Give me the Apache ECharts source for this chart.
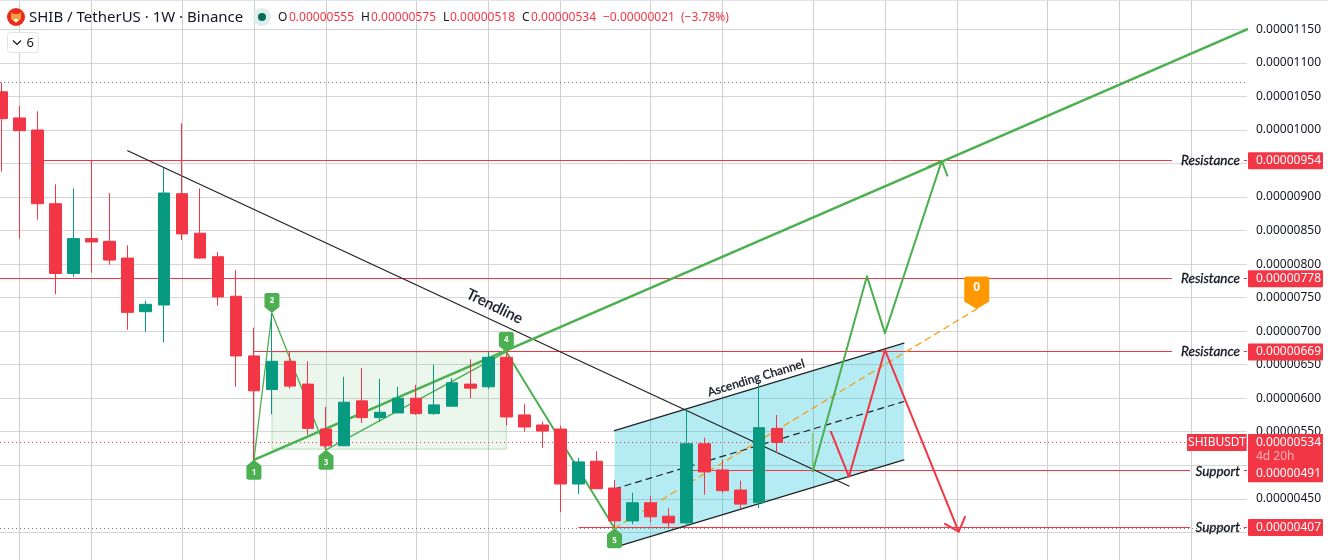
<!DOCTYPE html>
<html><head><meta charset="utf-8">
<style>html,body{margin:0;padding:0;background:#fff}#c{width:1328px;height:560px}</style>
<script src="https://cdn.jsdelivr.net/npm/echarts@6/dist/echarts.min.js"></script>
</head><body><div id="c"></div>
<script>
// Prices are in units of 0.00000001 USDT; x is the weekly bar index.
const opens =[1057,1018,1000,890,786,838,834,809,729,739,905,846,811,752,663,613,655,621,554,529,596,571,578,600,577,588,621,617,661,575,560,554,472,506,466,417,444,424,414,532,493,463,444,555];
const closes=[1017,999,890,786,838,833,806,728,740,906,845,809,751,663,611,655,618,555,529,594,571,579,600,577,590,623,615,661,572,557,551,472,505,465,417,444,423,414,532,490,462,442,556,534];
const lows  =[938,838,866,755,781,787,799,702,699,683,836,808,738,617,508,576,614,545,523,529,563,565,578,575,575,588,600,614,559,550,526,430,457,465,406,412,415,408,409,456,459,435,436,518];
const highs =[1071,1036,1028,919,913,954,906,828,745,943,1010,913,818,791,705,727,670,655,587,632,645,629,617,620,650,630,658,669,669,591,565,559,511,521,478,459,454,436,583,541,508,477,624,575];
const monthBars=[1,5,10,14,18,23,27,31,36,40,45,49,53,58,62,66];
const xMin=-0.083, xMax=69.08;
const priceLabelEnd=64.92, supportLabelEnd=65.92, stubStart=68.9;

const trendline=[[7,969],[47,469]];
const greenTrend=[[14,508],[69.08,1150]];
const waveThin=[[14,508],[15,727],[18,523],[28,669]];
const waveLast=[[28,669],[34,406]];
const orangeFib=[[34,406],[54.09,733]];
const channelTop=[[34,551.5],[50.05,682]];
const channelMid=[[34,464.6],[50.05,595]];
const channelBottom=[[34,377.5],[50.05,508]];
const greenPathStart=[[45,547],[45,491]];
const greenPath=[[45,491],[48,782],[49,697],[52.15,954]];
const greenHead=[[51.39,945],[52.15,954],[52.46,932]];
const redPath=[[46,550],[47,483],[49,672],[53.09,401]];
const redHead=[[52.33,412.6],[53.09,401],[53.44,423]];
const prevHigh=1071, prevLow=406, lastPrice=534;
const levelStarts=[2,xMin,14,38,32];
const levelPrices=[954,778,669,492,407];
const levelEnds=[priceLabelEnd,priceLabelEnd,priceLabelEnd,supportLabelEnd,supportLabelEnd];
const greenBox=[15,28,669,524];
const channelPoly=[[34,551.5],[50.05,682],[50.05,508],[34,377.5]];

const markerLabels=['1','2','3','4','5','0'];
const markerPoints=[[14,508],[15,727],[18,523],[28,669],[34,406],[54.09,733]];
const markerUp=[true,false,true,false,true,false];

const annotTexts=['Trendline','Ascending Channel','Resistance','Resistance','Resistance','Support','Support'];
const annotPoints=[[27.35,737],[41.85,630],[68.69,954],[68.69,778],[68.69,669],[68.69,491],[68.69,407]];
const annotRotation=[-26,17,0,0,0,0,0];

const tagPrices=[954,778,669,534,491,407];
const tagTexts=['0.00000954','0.00000778','0.00000669','0.00000534','0.00000491','0.00000407'];

const RED='#F23645',GRN='#089981',LINE='#4CAF50';
const FONT='"Noto Sans"';
const candleData=opens.map((o,i)=>[i,o,closes[i],lows[i],highs[i]]);

function line(name,pts,color,width,type,z){
  return {name,type:'line',data:pts,showSymbol:false,symbol:'none',silent:true,z:z||2,animation:false,
    lineStyle:{color,width,type:type||'solid',cap:'round',join:'round'}};
}
const series=[];

series.push({type:'custom',name:'boxes',silent:true,z:1,animation:false,data:[0],
  renderItem(p,api){
    const a=api.coord([greenBox[0],greenBox[2]]),b=api.coord([greenBox[1],greenBox[3]]);
    const poly=channelPoly.map(q=>api.coord(q));
    return {type:'group',children:[
      {type:'rect',shape:{x:a[0],y:a[1],width:b[0]-a[0],height:b[1]-a[1]},style:{fill:'rgba(76,175,80,0.11)',stroke:'rgba(76,175,80,0.32)',lineWidth:1}},
      {type:'polygon',shape:{points:poly},style:{fill:'rgba(0,188,212,0.29)'}}
    ]};
  }});

function hLine(api,xa,xb,v,stroke,dash){
  const a=api.coord([xa,v]),b=api.coord([xb,v]),y=Math.floor(a[1])+0.5;
  return {type:'line',shape:{x1:a[0],y1:y,x2:b[0],y2:y},style:{stroke,lineWidth:1,lineDash:dash||null}};
}
series.push({type:'custom',name:'levels',silent:true,z:2,animation:false,data:[0],
  renderItem(p,api){
    const ch=[
      hLine(api,xMin,xMax,prevHigh,'#787b86',[1,3]),
      hLine(api,xMin,xMax,prevLow,'#787b86',[1,3]),
      hLine(api,xMin,65.9,lastPrice,RED,[1,3])
    ];
    levelPrices.forEach((v,i)=>{
      ch.push(hLine(api,levelStarts[i],levelEnds[i],v,RED));
      ch.push(hLine(api,stubStart,xMax,v,RED));
    });
    return {type:'group',children:ch};
  }});

series.push(line('trend',trendline,'#222',1.3));
series.push(line('channelTop',channelTop,'#222',1.3));
series.push(line('channelBottom',channelBottom,'#222',1.3));
series.push(line('channelMid',channelMid,'#222',1.2,[6,5]));
series.push(line('fib',orangeFib,'#FF9800',1.2,[6,5]));
series.push(line('greenTrend',greenTrend,LINE,2.6));
series.push(line('wave',waveThin,LINE,1.3));
series.push(line('waveLast',waveLast,LINE,2));
series.push(line('pathStart',greenPathStart,'#8bc98e',2));
series.push(line('path',greenPath,LINE,2));
series.push(line('head',greenHead,LINE,2));
series.push(line('redPath',redPath,RED,2));
series.push(line('redHead',redHead,RED,2));

series.push({type:'candlestick',name:'SHIBUSDT',data:candleData,barWidth:12,z:3,silent:true,animation:false,
  encode:{x:0,y:[1,2,3,4]},
  itemStyle:{color:GRN,color0:RED,borderColor:GRN,borderColor0:RED,borderWidth:1}});

series.push({type:'custom',name:'markers',silent:true,z:4,animation:false,clip:false,data:markerLabels.map((_,i)=>i),
  renderItem(p,api){
    const i=p.dataIndex,c=api.coord(markerPoints[i]),up=markerUp[i],big=markerLabels[i]==='0';
    const hw=big?12.5:7.5,sh=big?7.5:6,h=big?32.5:20,ch=1.5,s=up?1:-1,x=c[0],y=c[1];
    const pts=[[x,y],[x+hw,y+s*sh],[x+hw,y+s*(h-ch)],[x+hw-ch,y+s*h],[x-hw+ch,y+s*h],[x-hw,y+s*(h-ch)],[x-hw,y+s*sh]];
    return {type:'group',children:[
      {type:'polygon',shape:{points:pts},style:{fill:big?'#FF9800':LINE}},
      {type:'text',style:{x,y:y+s*(big?21.5:12.5),text:markerLabels[i],fill:'#fff',align:'center',verticalAlign:'middle',textAlign:'center',textVerticalAlign:'middle',font:(big?'bold 12px ':'bold 8px ')+FONT}}
    ]};
  }});

series.push({type:'custom',name:'annotations',silent:true,z:4,animation:false,clip:false,data:annotTexts.map((_,i)=>i),
  renderItem(p,api){
    const i=p.dataIndex,c=api.coord(annotPoints[i]),lvl=i>=2;
    return {type:'text',x:c[0],y:c[1],rotation:annotRotation[i]*Math.PI/180,
      style:{x:0,y:0,text:annotTexts[i],fill:'#131722',stroke:'#131722',lineWidth:0.3,align:lvl?'right':'center',textAlign:lvl?'right':'center',verticalAlign:'middle',textVerticalAlign:'middle',
        font:(lvl?'italic 13.5px ':(i===0?'15px ':'12px '))+'Lato'}};
  }});

series.push({type:'custom',name:'tags',silent:true,z:5,animation:false,clip:false,data:tagPrices.map((_,i)=>i),
  renderItem(p,api){
    const i=p.dataIndex,y=api.coord([0,tagPrices[i]])[1],gx=p.coordSys.x+p.coordSys.width,ch=[];
    const isLast=tagPrices[i]===lastPrice, isBelow=tagPrices[i]===491;
    const ty=isBelow?y+2:y;
    ch.push({type:'rect',shape:{x:gx+1,y:isBelow?ty-9:y-8.5,width:75,height:isBelow?18:(isLast?31:17),r:isLast||isBelow?0:1},style:{fill:RED}});
    ch.push({type:'text',style:{x:gx+9,y:ty,text:tagTexts[i],fill:'#fff',verticalAlign:'middle',textVerticalAlign:'middle',font:'12px '+FONT}});
    if(isLast){
      ch.push({type:'text',style:{x:gx+9,y:y+14,text:'4d 20h',fill:'rgba(255,255,255,0.6)',verticalAlign:'middle',textVerticalAlign:'middle',font:'12px '+FONT}});
      ch.push({type:'rect',shape:{x:gx-60,y:y-8.5,width:59.7,height:17},style:{fill:RED}});
      ch.push({type:'text',style:{x:gx-30,y,text:'SHIBUSDT',fill:'#fff',align:'center',textAlign:'center',verticalAlign:'middle',textVerticalAlign:'middle',font:'12px '+FONT}});
    }
    return {type:'group',children:ch};
  }});

const hdr=[
 ['O',278,'#131722'],['0.00000555',289,RED],['H',361,'#131722'],['0.00000575',371,RED],
 ['L',443,'#131722'],['0.00000518',450,RED],['C',522,'#131722'],['0.00000534',531,RED],
 ['\u22120.00000021',603,RED],['(\u22123.78%)',681,RED]];
const txt=(x,y,text,font,fill)=>({type:'text',x,y,silent:true,z:20,style:{text,font,fill,textVerticalAlign:'middle',verticalAlign:'middle'}});
const graphic=[
 {type:'rect',z:19,silent:true,shape:{x:0,y:0,width:1328,height:1},style:{fill:'#e0e3eb'}},
 {type:'circle',z:20,silent:true,shape:{cx:16,cy:17,r:9},style:{fill:'#EE2A1F'}},
 {type:'polygon',z:21,silent:true,shape:{points:[[11,12],[13.5,14],[18.5,14],[21,12],[21,19],[16,23],[11,19]]},style:{fill:'#F7A13C'}},
 {type:'polygon',z:22,silent:true,shape:{points:[[13,19],[19,19],[16,22.5]]},style:{fill:'#fff'}},
 txt(29,18,'SHIB / TetherUS \u00b7 1W \u00b7 Binance','15px '+FONT,'#131722'),
 {type:'circle',z:20,silent:true,shape:{cx:262,cy:17,r:9},style:{fill:'#dcefeb'}},
 {type:'circle',z:21,silent:true,shape:{cx:262,cy:17,r:4},style:{fill:'#0a6b58'}},
 ...hdr.map(h=>txt(h[1],18,h[0],'12px '+FONT,h[2])),
 {type:'rect',z:20,silent:true,shape:{x:7.5,y:32.5,width:31,height:20,r:3},style:{fill:'#fff',stroke:'#e0e3eb',lineWidth:1}},
 {type:'polyline',z:21,silent:true,shape:{points:[[13,40.5],[17,44.5],[21,40.5]]},style:{stroke:'#131722',lineWidth:1.2,fill:null}},
 txt(26.5,43,'6','13px '+FONT,'#131722')
];

const chart=echarts.init(document.getElementById('c'),null,{renderer:'canvas'});
chart.setOption({
  animation:false,backgroundColor:'#fff',
  grid:{left:0,right:81,top:-4.1,height:569.9,containLabel:false,outerBoundsMode:'none'},
  xAxis:{type:'value',min:xMin,max:xMax,scale:true,
    axisLine:{show:false},axisLabel:{show:false},
    axisTick:{show:false,customValues:monthBars},
    splitLine:{show:true,lineStyle:{color:'#cfcfcf',width:1}}},
  yAxis:{type:'value',position:'right',min:350,max:1200,interval:50,scale:true,
    axisLine:{show:false},axisTick:{show:false},
    axisLabel:{margin:9,color:'#131722',fontFamily:FONT,fontSize:12,
      formatter:v=>(v>=1200||v<=350)?'':(v/1e8).toFixed(8)},
    splitLine:{show:true,lineStyle:{color:'#d6d6d6',width:1}}},
  tooltip:{show:false},legend:{show:false},
  series,graphic
});
</script></body></html>
